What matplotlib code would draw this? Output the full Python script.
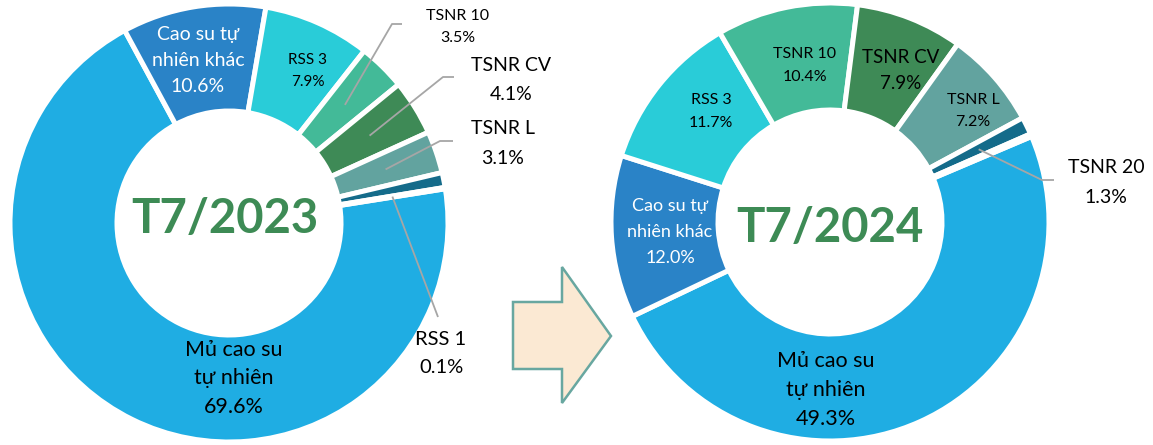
import matplotlib
matplotlib.use("Agg")
import matplotlib.pyplot as plt
from matplotlib.patches import Polygon
import numpy as np

W, H = 1153, 445

# ---------------- data ----------------
categories = ["Mủ cao su\ntự nhiên", "Cao su tự\nnhiên khác", "RSS 3", "TSNR 10",
              "TSNR CV", "TSNR L", "TSNR 20", "RSS 1"]
share_2023 = [69.6, 10.6, 7.9, 3.5, 4.1, 3.1, 1.1, 0.1]
share_2024 = [49.3, 12.0, 11.7, 10.4, 7.9, 7.2, 1.3, 0.2]
titles = ["T7/2023", "T7/2024"]

colors = ["#1FADE3", "#2A83C7", "#29CCD8", "#43BA98", "#3E8A56", "#62A39F", "#146B8A", "#146B8A"]
TITLE_COLOR = "#3D8B55"
LEADER = "#A6A6A6"
FONT = ["Lato", "Noto Sans", "DejaVu Sans"]

R_OUT, R_IN = 219, 112


def P(x, y):
    """pixel position measured from top-left -> axes coords (y up)"""
    return (x, H - y)


# label layout: index -> (x, first baseline y, line step, fontsize, color, leader elbow pts)
layout_2023 = {
    0: (234, 356, 28.5, 15.5, "black", None),
    1: (198, 40, 26, 14, "white", None),
    2: (308, 64, 22, 11, "black", None),
    3: (458, 20, 22, 11.5, "black", [(392, 24), (402, 24)]),
    4: (511, 71, 29, 14, "black", [(443, 77), (454, 77)]),
    5: (503, 134, 30, 14, "black", [(440, 141), (453, 141)]),
    7: (441, 345, 28, 14.5, "black", [(438, 317)]),
}
layout_2024 = {
    0: (826, 367, 29, 15.5, "black", None),
    1: (670, 211, 26, 13, "white", None),
    2: (711, 104, 23, 11.5, "black", None),
    3: (805, 58, 23, 11.5, "black", None),
    4: (901, 63, 26, 13.5, "black", None),
    5: (973, 104, 22, 11.5, "black", None),
    6: (1106, 173, 30, 14, "black", [(1042, 180), (1054, 180)]),
}

charts = [
    dict(values=share_2023, title=titles[0], center=(229, 223), start_cw=81,
         title_pos=(225, 233), layout=layout_2023),
    dict(values=share_2024, title=titles[1], center=(830, 222), start_cw=67,
         title_pos=(830, 242), layout=layout_2024),
]

fig = plt.figure(figsize=(W / 100, H / 100), dpi=100)
ax = fig.add_axes([0, 0, 1, 1])

for ch in charts:
    cx, cy = P(*ch["center"])
    wedges, _ = ax.pie(ch["values"], colors=colors, radius=R_OUT, center=(cx, cy),
                       startangle=90 - ch["start_cw"], counterclock=False,
                       wedgeprops=dict(width=R_OUT - R_IN, edgecolor="white", linewidth=3.6))
    r_mid = (R_OUT + R_IN) / 2
    for i, (x, yb, step, fs, col, elbow) in ch["layout"].items():
        lines = categories[i].split("\n") + [f"{ch['values'][i]:.1f}%"]
        for k, s in enumerate(lines):
            ax.text(*P(x, yb + k * step), s, ha="center", va="baseline",
                    fontsize=fs, color=col, family=FONT)
        if elbow is not None:
            w = wedges[i]
            th = np.deg2rad((w.theta1 + w.theta2) / 2)
            pts = [(cx + r_mid * np.cos(th), cy + r_mid * np.sin(th))] + [P(*p) for p in elbow]
            xs, ys = zip(*pts)
            ax.plot(xs, ys, color=LEADER, lw=1.3, solid_capstyle="butt", zorder=5)
    ax.text(*P(*ch["title_pos"]), ch["title"], ha="center", va="baseline",
            fontsize=34, fontweight="bold", color=TITLE_COLOR, family=FONT)

# arrow between the two charts
arrow_pts = [P(513, 302), P(562, 302), P(562, 267), P(611, 336),
             P(562, 403), P(562, 369), P(513, 369)]
ax.add_patch(Polygon(arrow_pts, closed=True, facecolor="#FBE9D3",
                     edgecolor="#68A7A0", linewidth=1.8, joinstyle="miter"))

ax.set_xlim(0, W)
ax.set_ylim(0, H)
ax.set_aspect("equal")
ax.axis("off")
fig.savefig("out.png", dpi=100)
